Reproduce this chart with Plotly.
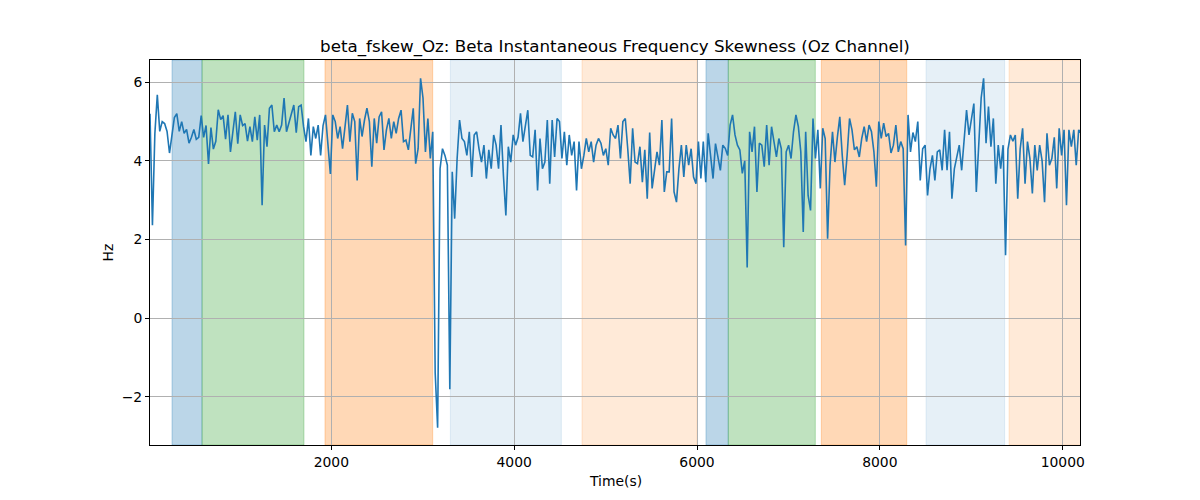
import numpy as np
import plotly.graph_objects as go

# ---- data ----
t_start = 17.0
t_step = 26.66

skew_hz = [
    5.2, 2.36, 4.7, 5.68, 4.75, 5.0, 4.95, 4.75, 4.2, 4.7, 5.1, 5.2, 4.75, 5.0, 4.7, 4.8,
    4.45, 4.6, 4.8, 4.55, 4.6, 5.15, 4.6, 4.9, 3.92, 4.85, 4.3, 4.5, 5.3, 5.05, 5.15, 4.55,
    5.17, 4.23, 4.83, 5.25, 4.44, 5.17, 4.9, 4.95, 4.5, 4.87, 4.49, 5.12, 4.53, 5.17, 2.87, 4.91,
    4.36, 5.34, 5.42, 4.74, 4.91, 4.74, 4.91, 5.6, 4.74, 4.95, 5.17, 5.42, 4.72, 5.38, 5.42, 4.87,
    4.49, 5.08, 4.14, 4.87, 4.57, 4.91, 4.14, 4.9, 5.17, 4.49, 3.67, 5.17, 5.0, 4.57, 4.87, 4.31,
    4.91, 5.42, 4.49, 5.21, 5.0, 3.5, 5.08, 4.62, 5.04, 5.34, 5.0, 3.85, 5.08, 4.45, 5.12, 5.25,
    4.28, 4.79, 5.08, 4.57, 5.0, 4.7, 5.08, 5.29, 4.49, 4.53, 4.28, 4.9, 5.34, 3.93, 4.31, 6.1,
    5.6, 4.23, 5.08, 4.06, 4.74, -1.39, -2.79, 3.8, 4.31, 4.14, 3.89, -1.81, 3.72, 2.53, 4.06, 5.04,
    4.57, 4.49, 4.14, 4.74, 3.59, 4.66, 4.74, 4.3, 3.97, 4.4, 3.55, 4.28, 3.8, 4.66, 4.4, 3.8,
    4.91, 3.63, 2.61, 4.36, 3.97, 4.66, 4.4, 4.6, 5.21, 4.49, 4.9, 5.29, 4.14, 4.1, 4.79, 3.25,
    4.57, 3.8, 3.97, 5.04, 3.42, 5.04, 4.1, 5.08, 5.0, 4.06, 4.74, 3.89, 4.66, 4.14, 4.49, 3.25,
    4.49, 3.8, 4.14, 4.57, 4.23, 4.49, 3.97, 4.4, 4.57, 4.45, 4.14, 4.31, 3.89, 4.83, 4.66, 4.57,
    4.91, 4.06, 5.0, 5.08, 4.31, 3.42, 4.83, 3.97, 3.93, 4.36, 3.46, 4.28, 3.04, 4.72, 3.3, 3.8,
    4.23, 3.89, 5.04, 3.21, 3.72, 3.72, 5.08, 3.21, 2.95, 3.8, 4.4, 3.59, 4.4, 3.89, 4.31, 3.59,
    3.42, 4.49, 3.55, 4.49, 3.46, 4.7, 4.1, 3.55, 4.44, 4.14, 3.76, 4.4, 4.32, 4.14, 4.91, 5.17,
    4.66, 4.4, 4.28, 3.68, 4.0, 1.29, 4.74, 4.23, 4.87, 3.21, 4.45, 4.4, 3.85, 4.91, 3.89, 4.87,
    4.45, 4.1, 4.57, 4.31, 1.8, 4.23, 4.4, 4.06, 4.74, 5.17, 4.87, 4.23, 2.19, 4.74, 3.12, 2.74,
    5.08, 4.06, 4.79, 3.3, 4.83, 4.57, 2.02, 3.89, 4.74, 3.97, 4.6, 5.12, 4.14, 3.38, 4.14, 5.08,
    4.79, 4.28, 4.36, 4.1, 4.57, 4.87, 4.49, 4.91, 4.74, 4.23, 3.34, 5.0, 4.57, 4.96, 4.62, 4.7,
    4.2, 4.4, 4.91, 4.23, 4.49, 4.31, 1.85, 5.17, 4.23, 4.72, 4.49, 5.0, 3.5, 4.31, 4.4, 3.12,
    3.8, 4.14, 3.5, 4.23, 4.28, 3.76, 4.79, 3.76, 4.74, 3.04, 3.8, 4.1, 4.4, 3.76, 4.45, 5.29,
    4.66, 5.12, 5.46, 3.21, 4.53, 5.6, 6.1, 4.45, 5.38, 4.36, 5.08, 3.42, 4.4, 3.8, 4.4, 1.6,
    4.3, 4.66, 4.5, 4.66, 3.04, 4.3, 4.83, 3.42, 4.49, 4.06, 3.17, 4.4, 3.76, 4.4, 4.0, 2.95,
    4.7, 3.89, 4.06, 4.6, 3.3, 4.83, 4.14, 4.79, 2.87, 4.79, 4.36, 4.79, 3.89, 4.79, 4.7,
]
time_s = t_start + t_step * np.arange(len(skew_hz))

span_starts = [258, 586, 1931, 3302, 4742, 6098, 6342, 7360, 8505, 9413]
span_ends = [586, 1701, 3109, 4516, 5997, 6342, 7294, 8294, 9365, 10400]
span_colors = [
    "rgba(31,119,180,0.3)", "rgba(44,160,44,0.3)", "rgba(255,127,14,0.3)",
    "rgba(31,119,180,0.11)", "rgba(255,127,14,0.16)",
    "rgba(31,119,180,0.3)", "rgba(44,160,44,0.3)", "rgba(255,127,14,0.3)",
    "rgba(31,119,180,0.11)", "rgba(255,127,14,0.16)",
]

x_ticks = [2000, 4000, 6000, 8000, 10000]
y_ticks = [-2, 0, 2, 4, 6]
x_range = [17, 10189]
y_range = [-3.23, 6.567]

title_text = "beta_fskew_Oz: Beta Instantaneous Frequency Skewness (Oz Channel)"

# ---- figure ----
FONT = "DejaVu Sans"
PAGE_OFFSET = 8  # default body margin of the html page
fig = go.Figure()

shapes = []
for s, e, c in zip(span_starts, span_ends, span_colors):
    shapes.append(dict(type="rect", xref="x", yref="paper", x0=s, x1=e, y0=0, y1=1,
                       fillcolor=c, line=dict(color=c, width=1), layer="below"))

fig.add_trace(go.Scatter(x=time_s, y=skew_hz, mode="lines",
                         line=dict(color="#1f77b4", width=1.6), showlegend=False))

def fmt(v):
    return str(v).replace("-", "\u2212")

fig.update_layout(
    width=1200, height=500,
    margin=dict(l=150 - PAGE_OFFSET, r=120 + PAGE_OFFSET, t=60 - PAGE_OFFSET, b=55 + PAGE_OFFSET),
    paper_bgcolor="white", plot_bgcolor="white",
    shapes=shapes,
    font=dict(family=FONT, size=13.9, color="black"),
    title=dict(text=title_text, x=0.5, xref="paper", xanchor="center",
               y=1 - (46 - PAGE_OFFSET) / 500, yref="container", yanchor="middle",
               font=dict(family=FONT, size=16.7, color="black")),
    annotations=[
        dict(text="Time(s)", xref="paper", yref="paper", x=0.5, y=(445 - 481) / 385,
             xanchor="center", yanchor="middle", showarrow=False,
             font=dict(family=FONT, size=13.9, color="black")),
        dict(text="Hz", xref="paper", yref="paper", x=(107 - 150) / 930, y=0.5,
             xanchor="center", yanchor="middle", showarrow=False, textangle=-90,
             font=dict(family=FONT, size=13.9, color="black")),
    ],
)
fig.update_xaxes(range=x_range, tickvals=x_ticks, ticktext=[fmt(v) for v in x_ticks],
                 showgrid=True, gridcolor="#b0b0b0", gridwidth=0.8, zeroline=False,
                 showline=True, linecolor="black", linewidth=1, mirror=True,
                 ticks="outside", ticklen=4, tickwidth=1, tickcolor="black",
                 tickfont=dict(family=FONT, size=13.9, color="black"))
fig.update_yaxes(range=y_range, tickvals=y_ticks, ticktext=[fmt(v) for v in y_ticks],
                 showgrid=True, gridcolor="#b0b0b0", gridwidth=0.8, zeroline=False,
                 showline=True, linecolor="black", linewidth=1, mirror=True,
                 ticks="outside", ticklen=4, tickwidth=1, tickcolor="black",
                 tickfont=dict(family=FONT, size=13.9, color="black"))

fig.write_html("out.html")
